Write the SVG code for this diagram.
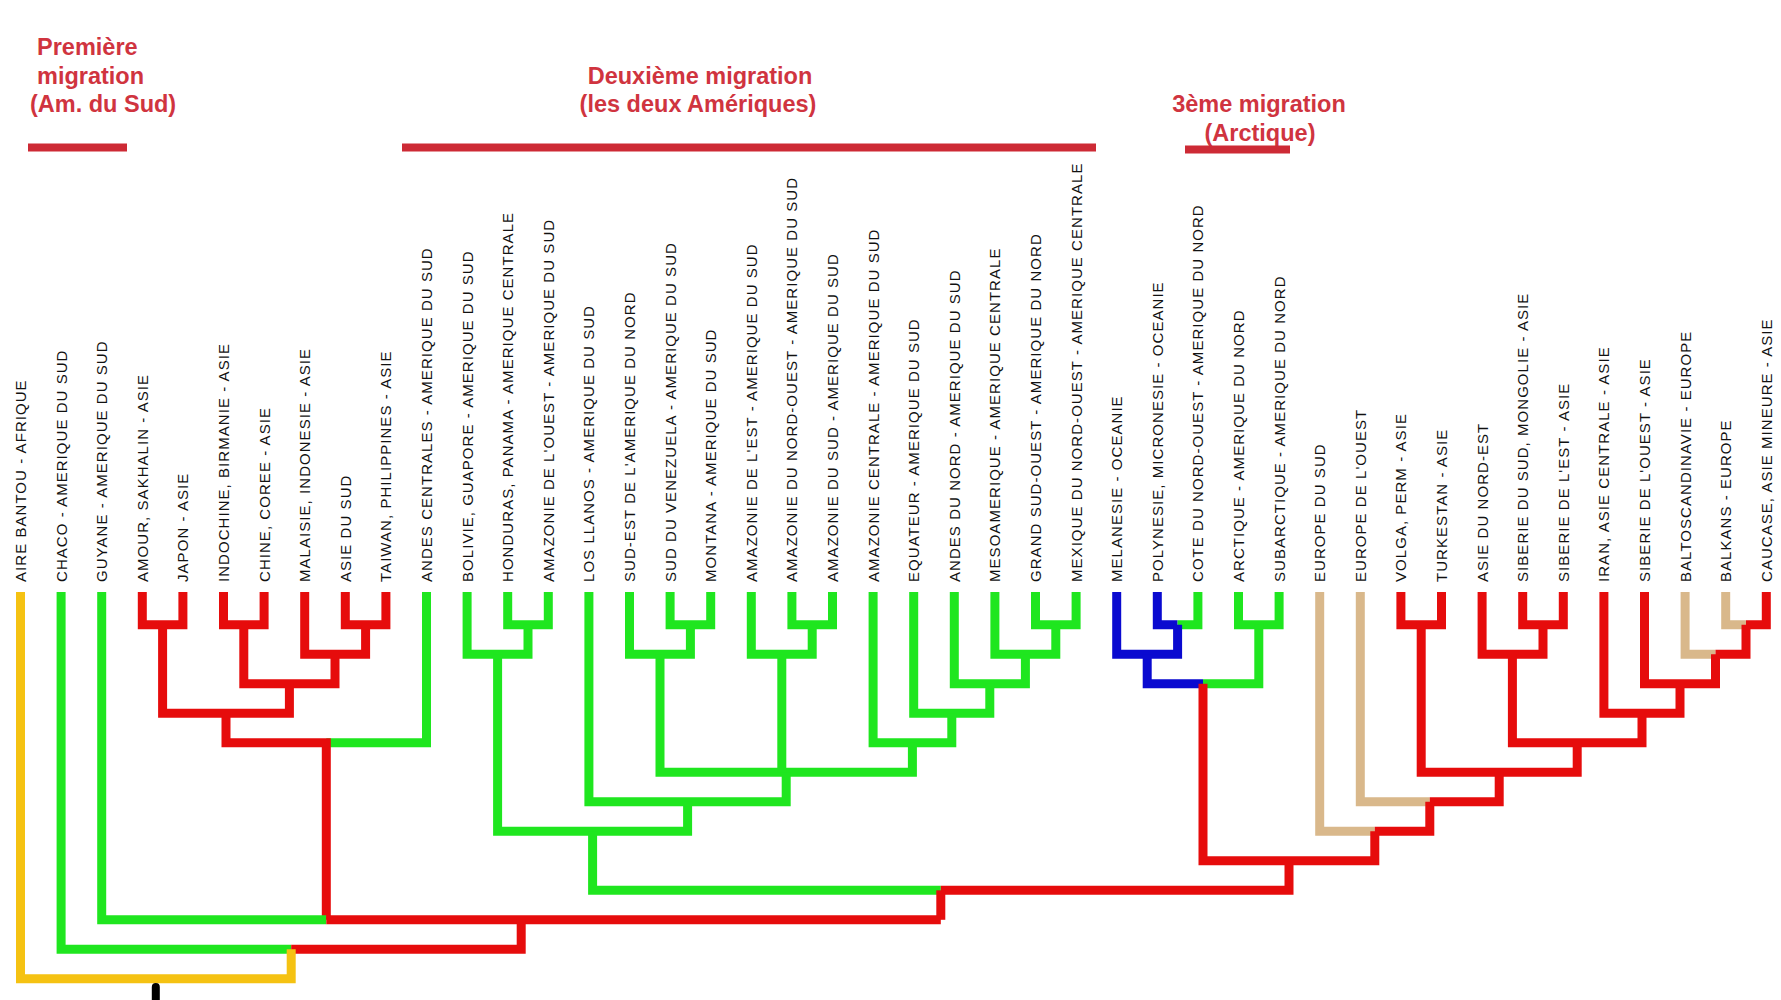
<svg xmlns="http://www.w3.org/2000/svg" width="1781" height="1000" viewBox="0 0 1781 1000">
<style>
.lbl{font-family:"Liberation Sans",Arial,sans-serif;font-size:15px;letter-spacing:1.05px;fill:#111}
.hd{font-family:"Liberation Sans",Arial,sans-serif;font-size:23.5px;font-weight:bold;fill:#d0343f}
.bar{fill:#cd2a35}
#connectors path{fill:none;stroke-width:9;stroke-linejoin:miter}
.y{stroke:#f5c212}.g{stroke:#1fe61f}.r{stroke:#e60c0c}.b{stroke:#0a0ad0}.t{stroke:#d9b88b}
</style>
<rect width="1781" height="1000" fill="#fff"/>
<g id="header-1">
<text class="hd" x="37" y="55">Première</text>
<text class="hd" x="37" y="83.5">migration</text>
<text class="hd" x="30" y="112">(Am. du Sud)</text>
<rect class="bar" x="28" y="143.5" width="99" height="8"/>
</g>
<g id="header-2">
<text class="hd" x="700" y="83.5" text-anchor="middle">Deuxième migration</text>
<text class="hd" x="698" y="112" text-anchor="middle">(les deux Amériques)</text>
<rect class="bar" x="402" y="143.5" width="694" height="8"/>
</g>
<g id="header-3">
<text class="hd" x="1259" y="112" text-anchor="middle">3ème migration</text>
<text class="hd" x="1260" y="141" text-anchor="middle">(Arctique)</text>
<rect class="bar" x="1185" y="145.5" width="105" height="8"/>
</g>
<g id="connectors">
<path class="r" d="M142.3 592V624.8H182.9V592"/>
<path class="r" d="M223.5 592V624.8H264.1V592"/>
<path class="r" d="M345.3 592V624.8H385.9V592"/>
<path class="r" d="M304.7 592V654.3H365.6V624.8"/>
<path class="r" d="M243.8 624.8V683.8H335V654.3"/>
<path class="r" d="M162.6 624.8V713.3H289.4V683.8"/>
<path class="g" d="M326.3 742.8H426.5V592"/>
<path class="r" d="M226 713.3V742.8H326.3V919.8"/>
<path class="g" d="M507.7 592V624.8H548.3V592"/>
<path class="g" d="M467.1 592V654.3H528V624.8"/>
<path class="g" d="M670.1 592V624.8H710.7V592"/>
<path class="g" d="M629.5 592V654.3H690.4V624.8"/>
<path class="g" d="M791.9 592V624.8H832.5V592"/>
<path class="g" d="M751.3 592V654.3H812.2V624.8"/>
<path class="g" d="M1035.5 592V624.8H1076.1V592"/>
<path class="g" d="M994.9 592V654.3H1055.8V624.8"/>
<path class="g" d="M954.3 592V683.8H1025.4V654.3"/>
<path class="g" d="M913.7 592V713.3H989.8V683.8"/>
<path class="g" d="M873.1 592V742.8H951.8V713.3"/>
<path class="g" d="M660 654.3V772.3H912.4V742.8"/>
<path class="g" d="M781.8 654.3V772.3"/>
<path class="g" d="M588.9 592V801.8H786.2V772.3"/>
<path class="g" d="M497.6 654.3V831.3H687.6V801.8"/>
<path class="g" d="M592.6 831.3V890.3H940.8"/>
<path class="b" d="M1157.3 592V624.8H1177.6"/>
<path class="g" d="M1177.6 624.8H1197.9V592"/>
<path class="b" d="M1116.7 592V654.3H1177.6V624.8"/>
<path class="g" d="M1238.5 592V624.8H1279.1V592"/>
<path class="b" d="M1147.2 654.3V683.8H1203"/>
<path class="g" d="M1203 683.8H1258.8V624.8"/>
<path class="r" d="M1400.9 592V624.8H1441.5V592"/>
<path class="r" d="M1522.7 592V624.8H1563.3V592"/>
<path class="r" d="M1482.1 592V654.3H1543V624.8"/>
<path class="t" d="M1725.7 592V624.8H1746"/>
<path class="r" d="M1746 624.8H1766.3V592"/>
<path class="t" d="M1685.1 592V654.3H1715.5"/>
<path class="r" d="M1715.5 654.3H1746V624.8"/>
<path class="r" d="M1644.5 592V683.8H1715.5V654.3"/>
<path class="r" d="M1603.9 592V713.3H1680V683.8"/>
<path class="r" d="M1512.4 654.3V742.8H1642V713.3"/>
<path class="r" d="M1421.2 624.8V772.3H1577.2V742.8"/>
<path class="t" d="M1360.3 592V801.8H1429.8"/>
<path class="r" d="M1429.8 801.8H1499.2V772.3"/>
<path class="t" d="M1319.7 592V831.3H1374.8"/>
<path class="r" d="M1374.8 831.3H1429.8V801.8"/>
<path class="r" d="M1203 683.8V860.8H1374.8V831.3"/>
<path class="r" d="M940.8 890.3H1289V860.8"/>
<path class="r" d="M940.8 890.3V919.8"/>
<path class="g" d="M101.7 592V919.8H326.3"/>
<path class="r" d="M326.3 919.8H940.8"/>
<path class="g" d="M61.1 592V949.3H291.2"/>
<path class="r" d="M291.2 949.3H521.2V919.8"/>
<path class="y" d="M20.5 592V978.8H291.2V949.3"/>
<path d="M155.8 987V1004" style="stroke:#000;stroke-width:8;stroke-linecap:round"/>
</g>
<g id="leaves">
<g id="leaf-0"><text class="lbl" transform="translate(26,582) rotate(-90)">AIRE BANTOU - AFRIQUE</text></g>
<g id="leaf-1"><text class="lbl" transform="translate(66.6,582) rotate(-90)">CHACO - AMERIQUE DU SUD</text></g>
<g id="leaf-2"><text class="lbl" transform="translate(107.2,582) rotate(-90)">GUYANE - AMERIQUE DU SUD</text></g>
<g id="leaf-3"><text class="lbl" transform="translate(147.8,582) rotate(-90)">AMOUR, SAKHALIN - ASIE</text></g>
<g id="leaf-4"><text class="lbl" transform="translate(188.4,582) rotate(-90)">JAPON - ASIE</text></g>
<g id="leaf-5"><text class="lbl" transform="translate(229,582) rotate(-90)">INDOCHINE, BIRMANIE - ASIE</text></g>
<g id="leaf-6"><text class="lbl" transform="translate(269.6,582) rotate(-90)">CHINE, COREE - ASIE</text></g>
<g id="leaf-7"><text class="lbl" transform="translate(310.2,582) rotate(-90)">MALAISIE, INDONESIE - ASIE</text></g>
<g id="leaf-8"><text class="lbl" transform="translate(350.8,582) rotate(-90)">ASIE DU SUD</text></g>
<g id="leaf-9"><text class="lbl" transform="translate(391.4,582) rotate(-90)">TAIWAN, PHILIPPINES - ASIE</text></g>
<g id="leaf-10"><text class="lbl" transform="translate(432,582) rotate(-90)">ANDES CENTRALES - AMERIQUE DU SUD</text></g>
<g id="leaf-11"><text class="lbl" transform="translate(472.6,582) rotate(-90)">BOLIVIE, GUAPORE - AMERIQUE DU SUD</text></g>
<g id="leaf-12"><text class="lbl" transform="translate(513.2,582) rotate(-90)">HONDURAS, PANAMA - AMERIQUE CENTRALE</text></g>
<g id="leaf-13"><text class="lbl" transform="translate(553.8,582) rotate(-90)">AMAZONIE DE L'OUEST - AMERIQUE DU SUD</text></g>
<g id="leaf-14"><text class="lbl" transform="translate(594.4,582) rotate(-90)">LOS LLANOS - AMERIQUE DU SUD</text></g>
<g id="leaf-15"><text class="lbl" transform="translate(635,582) rotate(-90)">SUD-EST DE L'AMERIQUE DU NORD</text></g>
<g id="leaf-16"><text class="lbl" transform="translate(675.6,582) rotate(-90)">SUD DU VENEZUELA - AMERIQUE DU SUD</text></g>
<g id="leaf-17"><text class="lbl" transform="translate(716.2,582) rotate(-90)">MONTANA - AMERIQUE DU SUD</text></g>
<g id="leaf-18"><text class="lbl" transform="translate(756.8,582) rotate(-90)">AMAZONIE DE L'EST - AMERIQUE DU SUD</text></g>
<g id="leaf-19"><text class="lbl" transform="translate(797.4,582) rotate(-90)">AMAZONIE DU NORD-OUEST - AMERIQUE DU SUD</text></g>
<g id="leaf-20"><text class="lbl" transform="translate(838,582) rotate(-90)">AMAZONIE DU SUD - AMERIQUE DU SUD</text></g>
<g id="leaf-21"><text class="lbl" transform="translate(878.6,582) rotate(-90)">AMAZONIE CENTRALE - AMERIQUE DU SUD</text></g>
<g id="leaf-22"><text class="lbl" transform="translate(919.2,582) rotate(-90)">EQUATEUR - AMERIQUE DU SUD</text></g>
<g id="leaf-23"><text class="lbl" transform="translate(959.8,582) rotate(-90)">ANDES DU NORD - AMERIQUE DU SUD</text></g>
<g id="leaf-24"><text class="lbl" transform="translate(1000.4,582) rotate(-90)">MESOAMERIQUE - AMERIQUE CENTRALE</text></g>
<g id="leaf-25"><text class="lbl" transform="translate(1041,582) rotate(-90)">GRAND SUD-OUEST - AMERIQUE DU NORD</text></g>
<g id="leaf-26"><text class="lbl" transform="translate(1081.6,582) rotate(-90)">MEXIQUE DU NORD-OUEST - AMERIQUE CENTRALE</text></g>
<g id="leaf-27"><text class="lbl" transform="translate(1122.2,582) rotate(-90)">MELANESIE - OCEANIE</text></g>
<g id="leaf-28"><text class="lbl" transform="translate(1162.8,582) rotate(-90)">POLYNESIE, MICRONESIE - OCEANIE</text></g>
<g id="leaf-29"><text class="lbl" transform="translate(1203.4,582) rotate(-90)">COTE DU NORD-OUEST - AMERIQUE DU NORD</text></g>
<g id="leaf-30"><text class="lbl" transform="translate(1244,582) rotate(-90)">ARCTIQUE - AMERIQUE DU NORD</text></g>
<g id="leaf-31"><text class="lbl" transform="translate(1284.6,582) rotate(-90)">SUBARCTIQUE - AMERIQUE DU NORD</text></g>
<g id="leaf-32"><text class="lbl" transform="translate(1325.2,582) rotate(-90)">EUROPE DU SUD</text></g>
<g id="leaf-33"><text class="lbl" transform="translate(1365.8,582) rotate(-90)">EUROPE DE L'OUEST</text></g>
<g id="leaf-34"><text class="lbl" transform="translate(1406.4,582) rotate(-90)">VOLGA, PERM - ASIE</text></g>
<g id="leaf-35"><text class="lbl" transform="translate(1447,582) rotate(-90)">TURKESTAN - ASIE</text></g>
<g id="leaf-36"><text class="lbl" transform="translate(1487.6,582) rotate(-90)">ASIE DU NORD-EST</text></g>
<g id="leaf-37"><text class="lbl" transform="translate(1528.2,582) rotate(-90)">SIBERIE DU SUD, MONGOLIE - ASIE</text></g>
<g id="leaf-38"><text class="lbl" transform="translate(1568.8,582) rotate(-90)">SIBERIE DE L'EST - ASIE</text></g>
<g id="leaf-39"><text class="lbl" transform="translate(1609.4,582) rotate(-90)">IRAN, ASIE CENTRALE - ASIE</text></g>
<g id="leaf-40"><text class="lbl" transform="translate(1650,582) rotate(-90)">SIBERIE DE L'OUEST - ASIE</text></g>
<g id="leaf-41"><text class="lbl" transform="translate(1690.6,582) rotate(-90)">BALTOSCANDINAVIE - EUROPE</text></g>
<g id="leaf-42"><text class="lbl" transform="translate(1731.2,582) rotate(-90)">BALKANS - EUROPE</text></g>
<g id="leaf-43"><text class="lbl" transform="translate(1771.8,582) rotate(-90)">CAUCASE, ASIE MINEURE - ASIE</text></g>
</g>
</svg>
